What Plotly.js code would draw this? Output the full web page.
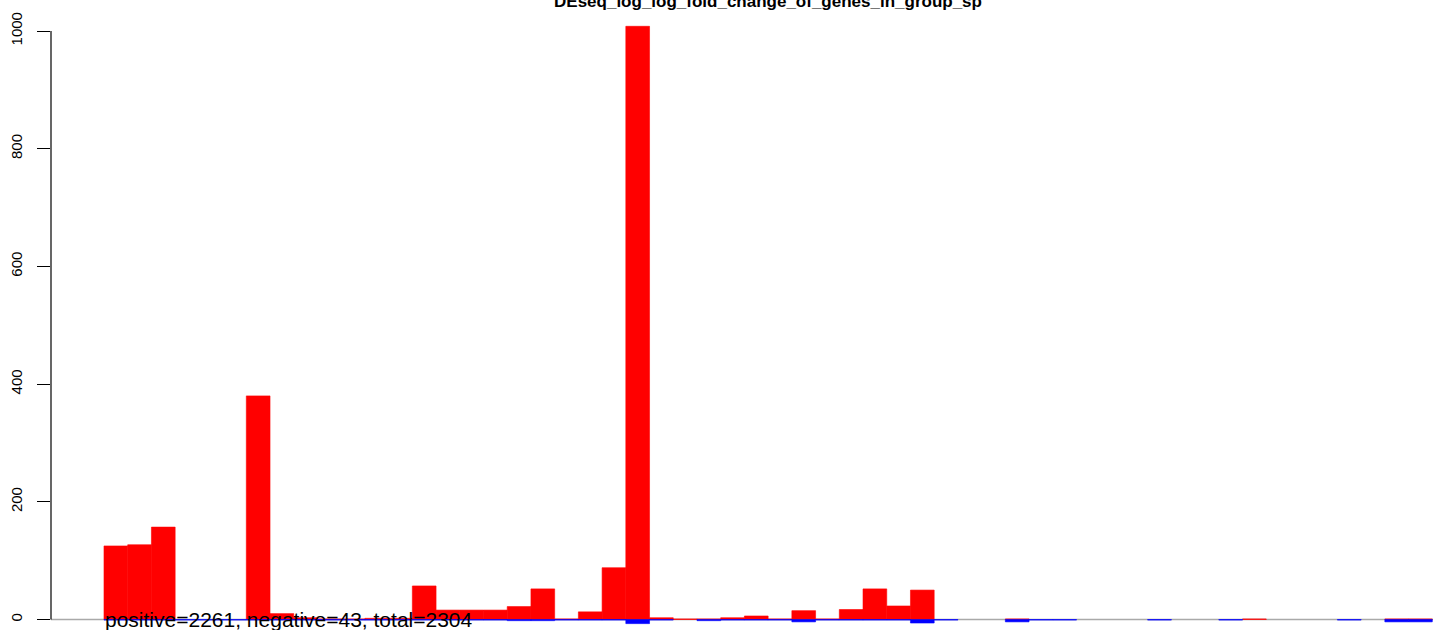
<!DOCTYPE html>
<html>
<head>
<meta charset="utf-8">
<script src="https://cdn.plot.ly/plotly-3.0.1.min.js"></script>
<style>html,body{margin:0;padding:0;background:#fff;}#chart{width:1433px;height:630px;}</style>
</head>
<body>
<div id="chart"></div>
<script>
// bin index (bars drawn side by side, no gaps)
const bins = Array.from({length: 56}, (_, i) => i + 0.5);
// positive counts per bin (red)
const positiveValues = [125,127,157,null,null,null,380,10,3,1,1,2,2,57,16,16,16,22,52,1,13,88,1008,3,1,1,3,6,1,15,1,17,52,23,50,null,null,null,1,null,null,null,null,null,null,null,null,null,1,null,null,null,null,null,1,1];
// negative counts per bin (blue, drawn below zero)
const negativeValues = [-1,-1,-1,-1,-1,-1,-1,-1,-1,-1,-1,-1,-1,-1,-1,-1,-1,-2,-2,-1,-1,-1,-7,-1,null,-2,-1,-1,-1,-4,-1,-1,-1,-1,-6,-1,null,null,-4,-1,-1,null,null,null,-1,null,null,-1,null,null,null,null,-1,null,-4,-4];
const titleText = "DEseq_log_log_fold_change_of_genes_in_group_sp";
const summaryText = "positive=2261, negative=43, total=2304";
const yTicks = [0, 200, 400, 600, 800, 1000];

const traces = [
  {type: 'bar', x: bins, y: positiveValues, width: 1, marker: {color: '#FF0000', line: {color: '#FF0000', width: 0.6}}, hoverinfo: 'skip'},
  {type: 'bar', x: bins, y: negativeValues, width: 1, marker: {color: '#0000FF', line: {color: '#0000FF', width: 0.6}}, hoverinfo: 'skip'}
];

const layout = {
  width: 1433, height: 630,
  margin: {l: 51, r: 0, t: 0, b: 0, pad: 0},
  paper_bgcolor: '#ffffff', plot_bgcolor: '#ffffff',
  showlegend: false,
  barmode: 'overlay',
  font: {family: 'Liberation Sans, Arial, sans-serif', color: '#000'},
  title: {text: '<b>' + titleText + '</b>', x: 768/1433, xanchor: 'center', xref: 'container', yref: 'container', y: 1 - 7/630, yanchor: 'bottom', font: {size: 17, family: 'Liberation Sans, Arial, sans-serif', color: '#000'}},
  xaxis: {range: [-2.234, 56.03], visible: false, fixedrange: true},
  yaxis: {
    range: [-17.84, 1052.7], tickvals: yTicks, ticktext: yTicks.map(String),
    showgrid: false, zeroline: false, showline: false,
    ticks: 'outside', ticklen: 13, tickwidth: 1, tickcolor: '#000',
    tickangle: -90, tickfont: {size: 15, color: '#000'}, ticklabelstandoff: 9
  },
  shapes: [
    {type: 'line', xref: 'paper', x0: 0, x1: 1, yref: 'y', y0: 0, y1: 0, line: {color: '#A9A9A9', width: 1.3}, layer: 'below'},
    {type: 'line', xref: 'paper', x0: 0, x1: 0, yref: 'y', y0: 0, y1: 1000, line: {color: '#000', width: 1.2}, layer: 'above'}
  ],
  annotations: [
    {text: summaryText, x: -0.05, xref: 'x', xanchor: 'left', y: 0, yref: 'y', yanchor: 'middle', showarrow: false, font: {size: 21, color: '#000'}}
  ]
};

Plotly.newPlot('chart', traces, layout, {staticPlot: true, displayModeBar: false});
</script>
</body>
</html>
